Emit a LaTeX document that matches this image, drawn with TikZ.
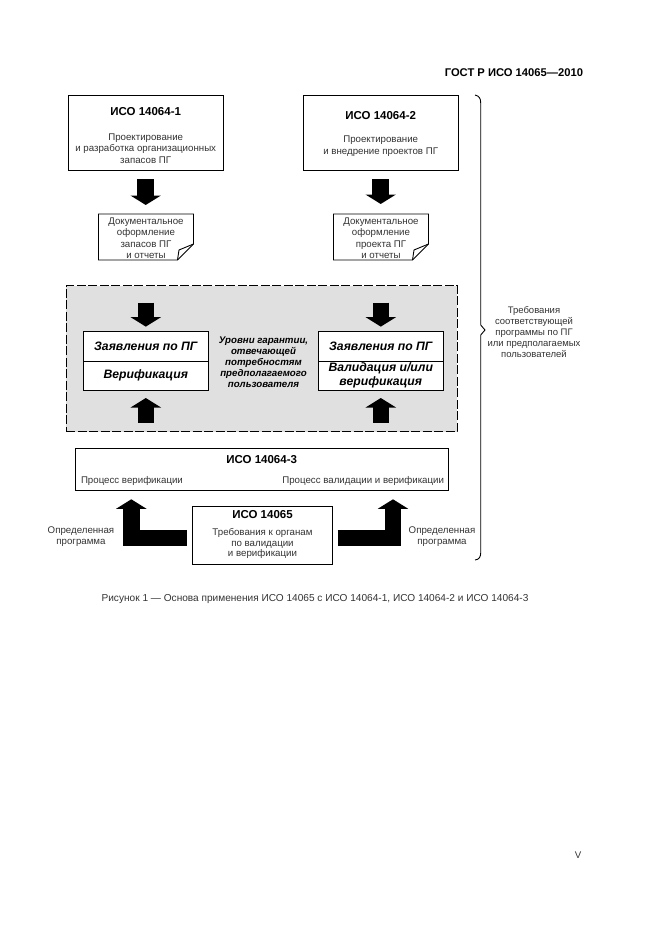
\documentclass[tikz,border=0pt]{standalone}
\usepackage{fontspec}
\setmainfont{Liberation Sans}
\usetikzlibrary{arrows.meta,positioning,calc}

\newcommand{\docframe}[1]{%
    \draw [docline] (#1.north west) -- (#1.north east) -- ($(#1.south east)+(0,-16)$)
        -- ($(#1.south east)+(-16,0)$) -- (#1.south west) -- cycle;
    \draw [docline] ($(#1.south east)+(-16,0)$) -- ($(#1.south east)+(-14.5,-10)$)
        -- ($(#1.south east)+(0,-16)$);
}

\begin{document}
\begin{tikzpicture}[
        x=1pt, y=-1pt,
        every node/.style={inner sep=0pt, outer sep=0pt},
        plainbox/.style={rectangle, draw=black, line width=0.9pt, fill=white},
        docline/.style={draw=black, line width=0.9pt},
        docbox/.style={minimum width=95pt, minimum height=46pt},
        bodytext/.style={align=center, text=black!80, font=\fontsize{9.7}{11.5}\selectfont},
        titletext/.style={align=center, font=\fontsize{11.5}{12}\selectfont\bfseries},
        claimtext/.style={align=center, font=\fontsize{12.2}{14}\selectfont\bfseries\itshape},
        fatline/.style={draw=black, line width=16.5pt, line join=miter,
                      -{Triangle[length=9.5pt, width=30pt]}},
    ]
    \useasboundingbox (0,0) rectangle (661,936);

    \node [anchor=east, font=\fontsize{11.2}{12}\selectfont\bfseries] (header) at (583,73) {ГОСТ Р ИСО 14065—2010};

    % upper standards
    \node [plainbox, minimum width=155.5pt, minimum height=74.5pt] (iso1) at (145.7,132.8) {};
    \node [plainbox, minimum width=155.5pt, minimum height=74.5pt] (iso2) at (380.7,132.8) {};
    \node [titletext] (iso1title) at (145.7,112) {ИСО 14064-1};
    \node [titletext] (iso2title) at (380.7,116) {ИСО 14064-2};
    \node [bodytext] (iso1body) at (145.7,148.5) {Проектирование\\и разработка организационных\\запасов ПГ};
    \node [bodytext] (iso2body) at (380.7,146) {Проектирование\\и внедрение проектов ПГ};

    % documents
    \node [docbox] (doc1) at (146,237) {};
    \node [docbox] (doc2) at (381,237) {};
    \node [bodytext] (doc1text) at (146,238.3) {Документальное\\оформление\\запасов ПГ\\и отчеты};
    \node [bodytext] (doc2text) at (381,238.3) {Документальное\\оформление\\проекта ПГ\\и отчеты};
    \docframe{doc1}
    \docframe{doc2}

    % shaded area
    \node [rectangle, draw=black, line width=1pt, dash pattern=on 9pt off 2.5pt, fill=black!12,
           minimum width=391pt, minimum height=146.2pt] (area) at (261.5,358.6) {};
    \node [plainbox, minimum width=125pt, minimum height=29.3pt] (claim1) at (145.8,346.3) {};
    \node [plainbox, minimum width=125pt, minimum height=29pt] (verif1) at (145.8,375.5) {};
    \node [plainbox, minimum width=125pt, minimum height=29.3pt] (claim2) at (380.8,346.3) {};
    \node [plainbox, minimum width=125pt, minimum height=29pt] (verif2) at (380.8,375.5) {};
    \node [claimtext] (claim1text) at (claim1) {Заявления по ПГ};
    \node [claimtext] (verif1text) at (verif1) {Верификация};
    \node [claimtext] (claim2text) at (claim2) {Заявления по ПГ};
    \node [claimtext, font=\fontsize{12.2}{13.5}\selectfont\bfseries\itshape] (verif2text) at (verif2) {Валидация и/или\\верификация};
    \node [align=center, font=\fontsize{9.7}{10.9}\selectfont\bfseries\itshape] (levels) at (263.5,362.5)
        {Уровни гарантии,\\отвечающей\\потребностям\\предполагаемого\\пользователя};

    % lower standards
    \node [plainbox, minimum width=373.3pt, minimum height=42.7pt] (iso3) at (261.7,469.3) {};
    \node [titletext] (iso3title) at (261.7,459.5) {ИСО 14064-3};
    \node [bodytext, anchor=west] (iso3left) at (81,481) {Процесс верификации};
    \node [bodytext, anchor=east] (iso3right) at (444,481) {Процесс валидации и верификации};
    \node [plainbox, minimum width=140.4pt, minimum height=58.3pt] (iso65) at (262.5,535.2) {};
    \node [titletext] (iso65title) at (262.5,514.5) {ИСО 14065};
    \node [bodytext, font=\fontsize{9.7}{10.6}\selectfont] (iso65body) at (262.5,543.5) {Требования к органам\\по валидации\\и верификации};

    \coordinate (startleft) at (186.7,538);
    \coordinate (startright) at (337.7,538);
    \coordinate (tipleft) at (131.3,490.7);
    \coordinate (tipright) at (393,490.7);

    % block arrows
    \draw [fatline, shorten <=9pt, shorten >=9pt] (iso1.south -| 145.7,0) -- (doc1.north -| 145.7,0);
    \draw [fatline, shorten <=9pt, shorten >=10pt] (iso2.south -| 380.7,0) -- (doc2.north -| 380.7,0);
    \draw [fatline, shorten <=17pt, shorten >=5pt] (area.north -| claim1) -- (claim1);
    \draw [fatline, shorten <=17pt, shorten >=5pt] (area.north -| claim2) -- (claim2);
    \draw [fatline, shorten <=9pt, shorten >=8pt] (area.south -| verif1) -- (verif1.south);
    \draw [fatline, shorten <=9pt, shorten >=8pt] (area.south -| verif2) -- (verif2.south);
    \draw [fatline, shorten >=8.6pt] (startleft) -| (tipleft);
    \draw [fatline, shorten >=8.6pt] (startright) -| (tipright);

    \node [bodytext] (progleft) at (81,536.5) {Определенная\\программа};
    \node [bodytext] (progright) at (442,536.5) {Определенная\\программа};

    % right brace
    \coordinate (bracetop) at (475,95);
    \coordinate (bracebottom) at (475,560);
    \draw [line width=0.9pt] (bracetop) .. controls (479,96) and (480.7,98) .. (480.7,103)
        -- (480.7,325) -- (485,330) -- (480.7,335) -- (480.7,553)
        .. controls (480.7,557) and (479,559.5) .. (bracebottom);
    \node [bodytext, font=\fontsize{9.5}{11}\selectfont] (needs) at (534,332)
        {Требования\\соответствующей\\программы по ПГ\\или предполагаемых\\пользователей};

    \node [text=black!80, font=\fontsize{10.1}{11}\selectfont] (caption) at (315,599)
        {Рисунок 1 — Основа применения ИСО 14065 с ИСО 14064-1, ИСО 14064-2 и ИСО 14064-3};
    \node [text=black!80, font=\fontsize{9.7}{11}\selectfont] (pagenum) at (578,855) {V};
\end{tikzpicture}
\end{document}
